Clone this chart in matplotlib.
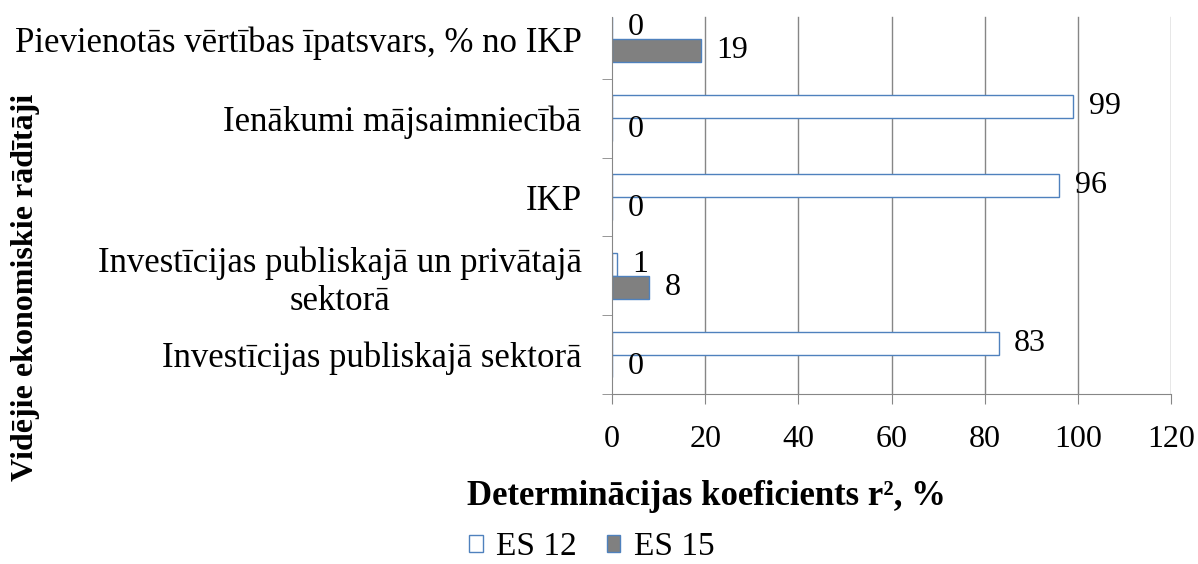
import matplotlib
matplotlib.use('Agg')
import matplotlib.pyplot as plt
import numpy as np

plt.rcParams['font.family'] = ['Liberation Serif', 'DejaVu Serif']

categories = ['Investīcijas publiskajā sektorā',
              'Investīcijas publiskajā un privātajā\nsektorā',
              'IKP',
              'Ienākumi mājsaimniecībā',
              'Pievienotās vērtības īpatsvars, % no IKP']
es12 = [83, 1, 96, 99, 0]
es15 = [0, 8, 0, 0, 19]
xticks = [0, 20, 40, 60, 80, 100, 120]

grid_c = '#868686'
edge = '#4F81BD'

fig = plt.figure(figsize=(11.98, 5.64), dpi=100)
ax = fig.add_axes([0.5109, 0.3014, 0.4666, 0.6986])

y = np.arange(len(categories))
h = 0.29
b1 = ax.barh(y + h / 2, es12, height=h, color='white', edgecolor=edge, linewidth=1, label='ES 12')
b2 = ax.barh(y - h / 2, es15, height=h, color='#808080', edgecolor=edge, linewidth=1, label='ES 15')

for bars, vals in ((b1, es12), (b2, es15)):
    for bar, v in zip(bars, vals):
        ax.annotate(str(v), (v, bar.get_y() + bar.get_height() / 2),
                    xytext=(11, 0), textcoords='offset points',
                    ha='left', va='center', fontsize=23)

ax.set_xlim(0, 120)
ax.set_ylim(-0.5, len(categories) - 0.5)
ax.set_xticks(xticks)
ax.set_yticks(y)
ax.set_yticklabels(categories, fontsize=25, multialignment='center')
ax.set_yticks(np.arange(-0.5, len(categories) - 1, 1), minor=True)
ax.tick_params(axis='y', which='major', length=0, pad=22)
ax.tick_params(axis='y', which='minor', length=7, color=grid_c, direction='out')
ax.tick_params(axis='x', length=7, color=grid_c, labelsize=23, pad=15)

# vertical grid stops a little below the top, like the original
top = 0.957
for t in xticks[1:]:
    ax.axvline(t, ymax=top, color=grid_c, linewidth=1, zorder=0)
for s in ('top', 'right'):
    ax.spines[s].set_visible(False)
for s in ('left', 'bottom'):
    ax.spines[s].set_color(grid_c)
ax.spines['left'].set_bounds(-0.5, -0.5 + len(categories) * top)

fig.text(0.59, 0.119, 'Determinācijas koeficients r², %', ha='center', va='center',
         fontsize=25, fontweight='bold')
fig.text(0.021, 0.491, 'Vidējie ekonomiskie rādītāji', rotation=90, ha='center', va='center',
         fontsize=23, fontweight='bold')
fig.legend(handles=[b1, b2], loc='center', bbox_to_anchor=(0.494, 0.03), ncol=2, frameon=False,
           fontsize=24, handlelength=0.4, handleheight=0.4, handletextpad=0.4, columnspacing=0.9,
           borderpad=0.1)

fig.savefig('out.png', dpi=100)
